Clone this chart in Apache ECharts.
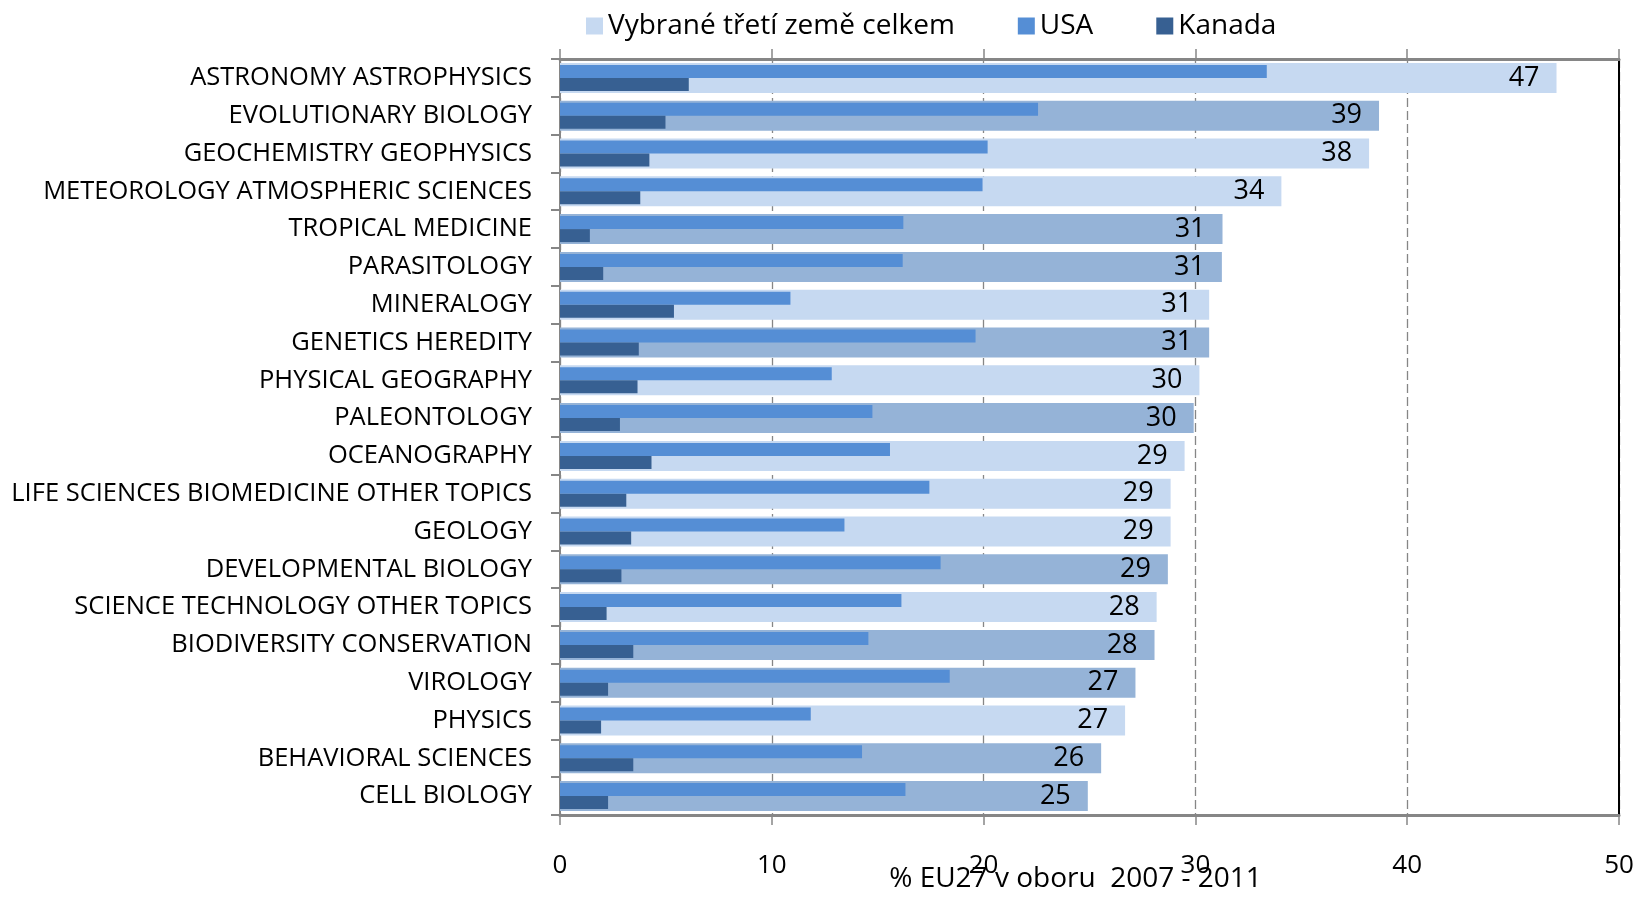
<!DOCTYPE html>
<html>
<head>
<meta charset="utf-8">
<script src="https://cdn.jsdelivr.net/npm/echarts@6/dist/echarts.min.js"></script>
<style>
html,body{margin:0;padding:0;background:#fff;}
#chart{width:1639px;height:898px;}
</style>
</head>
<body>
<div id="chart"></div>
<script>
const categories = ['ASTRONOMY ASTROPHYSICS','EVOLUTIONARY BIOLOGY','GEOCHEMISTRY GEOPHYSICS','METEOROLOGY ATMOSPHERIC SCIENCES','TROPICAL MEDICINE','PARASITOLOGY','MINERALOGY','GENETICS HEREDITY','PHYSICAL GEOGRAPHY','PALEONTOLOGY','OCEANOGRAPHY','LIFE SCIENCES BIOMEDICINE OTHER TOPICS','GEOLOGY','DEVELOPMENTAL BIOLOGY','SCIENCE TECHNOLOGY OTHER TOPICS','BIODIVERSITY CONSERVATION','VIROLOGY','PHYSICS','BEHAVIORAL SCIENCES','CELL BIOLOGY'];
const totalValues = [47.05, 38.67, 38.2, 34.06, 31.28, 31.25, 30.65, 30.65, 30.19, 29.92, 29.49, 28.83, 28.83, 28.7, 28.17, 28.07, 27.17, 26.68, 25.55, 24.92];
const usaValues = [33.37, 22.57, 20.19, 19.95, 16.21, 16.18, 10.88, 19.62, 12.83, 14.75, 15.58, 17.44, 13.43, 17.97, 16.12, 14.56, 18.4, 11.84, 14.26, 16.31];
const kanadaValues = [6.08, 4.98, 4.22, 3.79, 1.41, 2.04, 5.38, 3.72, 3.66, 2.83, 4.32, 3.13, 3.36, 2.9, 2.2, 3.46, 2.27, 1.94, 3.46, 2.27];
const highlightedCategories = ['EVOLUTIONARY BIOLOGY','TROPICAL MEDICINE','PARASITOLOGY','GENETICS HEREDITY','PALEONTOLOGY','DEVELOPMENTAL BIOLOGY','BIODIVERSITY CONSERVATION','VIROLOGY','BEHAVIORAL SCIENCES','CELL BIOLOGY'];
const seriesNames = ['Vybrané třetí země celkem', 'USA', 'Kanada'];
const xTicks = [0, 10, 20, 30, 40, 50];
const xAxisName = '% EU27 v oboru  2007 - 2011';

const FONT = '"Open Sans", sans-serif';
const GREY = '#868686';
const LIGHT = '#C6D9F1', DARK = '#95B3D7', USA_C = '#558ED5', CAN_C = '#376092';

const chart = echarts.init(document.getElementById('chart'), null, {renderer: 'canvas'});
const option = {
  animation: false,
  backgroundColor: '#fff',
  textStyle: {fontFamily: FONT},
  legend: {
    data: seriesNames,
    top: 7, left: 581,
    itemWidth: 17, itemHeight: 17, itemGap: 63,
    icon: 'rect',
    textStyle: {fontFamily: FONT, fontSize: 28, color: '#000'}
  },
  grid: {left: 560, right: 20, top: 59, bottom: 83, containLabel: false, outerBoundsMode: 'none'},
  xAxis: [{
    type: 'value', min: xTicks[0], max: xTicks[xTicks.length - 1], interval: 10,
    position: 'bottom',
    axisLine: {show: true, lineStyle: {color: GREY, width: 3}},
    axisTick: {show: true, length: 10, lineStyle: {color: GREY, width: 1.5}},
    axisLabel: {fontFamily: FONT, fontSize: 26, color: '#000', margin: 38},
    splitLine: {show: true, lineStyle: {color: GREY, width: 1.3, type: [9, 4]}},
    name: xAxisName, nameLocation: 'middle', nameGap: 50, nameMoveOverlap: false,
    nameTextStyle: {fontFamily: FONT, fontSize: 28, color: '#000', padding: [0, 28, 0, 0]}
  }, {
    type: 'value', min: xTicks[0], max: xTicks[xTicks.length - 1], interval: 10,
    position: 'top',
    axisLine: {show: true, lineStyle: {color: GREY, width: 3}},
    axisTick: {show: true, length: 10, lineStyle: {color: GREY, width: 1.5}},
    axisLabel: {show: false},
    splitLine: {show: false}
  }],
  yAxis: [{
    type: 'category', data: categories, inverse: true, position: 'left',
    axisLine: {show: true, lineStyle: {color: GREY, width: 2}},
    axisTick: {show: true, length: 9, lineStyle: {color: GREY, width: 2}},
    axisLabel: {fontFamily: FONT, fontSize: 25.5, color: '#000', margin: 28},
    splitLine: {show: false}
  }, {
    type: 'category', data: categories, inverse: true, position: 'right',
    axisLine: {show: true, onZero: false, lineStyle: {color: '#000', width: 2}},
    axisTick: {show: false},
    axisLabel: {show: false},
    splitLine: {show: false}
  }],
  series: [{
    name: seriesNames[0], type: 'bar', xAxisIndex: 0, yAxisIndex: 0,
    barWidth: 30,
    itemStyle: {color: LIGHT},
    data: totalValues.map((v, i) => ({
      value: v,
      itemStyle: {color: highlightedCategories.includes(categories[i]) ? DARK : LIGHT}
    })),
    label: {
      show: true, position: 'insideRight', distance: 17,
      fontFamily: FONT, fontSize: 27, color: '#000',
      formatter: p => Math.round(p.value)
    },
    z: 2
  }, {
    name: seriesNames[1], type: 'bar', xAxisIndex: 0, yAxisIndex: 1,
    barWidth: 13, barGap: '0%',
    itemStyle: {color: USA_C},
    data: usaValues,
    z: 3
  }, {
    name: seriesNames[2], type: 'bar', xAxisIndex: 0, yAxisIndex: 1,
    barWidth: 13, barGap: '0%',
    itemStyle: {color: CAN_C},
    data: kanadaValues,
    z: 3
  }]
};
chart.setOption(option);
</script>
</body>
</html>
